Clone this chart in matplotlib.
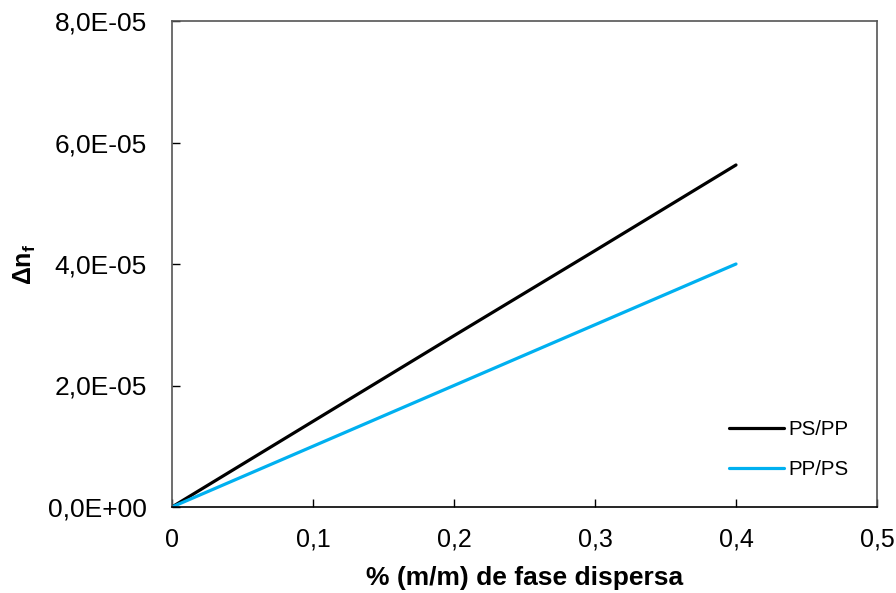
import matplotlib
matplotlib.use("Agg")
import matplotlib.pyplot as plt
from matplotlib.ticker import FuncFormatter

plt.rcParams['font.family'] = ['Liberation Sans', 'DejaVu Sans']
plt.rcParams['mathtext.fontset'] = 'custom'
plt.rcParams['mathtext.rm'] = 'Liberation Sans'
plt.rcParams['mathtext.bf'] = 'Liberation Sans:bold'

x_frac = [0.0, 0.1, 0.2, 0.3, 0.4]
ps_pp = [0.0, 1.41e-5, 2.82e-5, 4.22e-5, 5.63e-5]
pp_ps = [0.0, 1.0e-5, 2.0e-5, 3.0e-5, 4.0e-5]
x_ticks = [0, 0.1, 0.2, 0.3, 0.4, 0.5]
y_ticks = [0, 2e-5, 4e-5, 6e-5, 8e-5]

fig = plt.figure(figsize=(8.96, 5.93), dpi=100)
ax = fig.add_axes([172/896, 1-507/593, (877-172)/896, (507-21)/593])

ax.plot(x_frac, ps_pp, color='black', lw=2.3, label='PS/PP', solid_capstyle='round')
ax.plot(x_frac, pp_ps, color='#00B0F0', lw=2.3, label='PP/PS', solid_capstyle='round')

ax.set_xlim(0, 0.5)
ax.set_ylim(0, 8e-5)
ax.set_xticks(x_ticks)
ax.set_yticks(y_ticks)

def xfmt(v, p):
    return ('%g' % round(v, 3)).replace('.', ',')
def yfmt(v, p):
    if v == 0:
        return '0,0E+00'
    return ('%.1fE-05' % (v / 1e-5)).replace('.', ',')

ax.xaxis.set_major_formatter(FuncFormatter(xfmt))
ax.yaxis.set_major_formatter(FuncFormatter(yfmt))
ax.tick_params(direction='in', length=6, width=1, colors='black')
ax.tick_params(axis='x', pad=15, labelsize=18)
ax.tick_params(axis='y', pad=18, labelsize=19)

for s in ['left', 'right', 'top']:
    ax.spines[s].set_color('#555555')
ax.spines['bottom'].set_color('black')
for s in ax.spines.values():
    s.set_linewidth(1.2)

ax.set_xlabel('% (m/m) de fase dispersa', fontsize=19, fontweight='bold', labelpad=10)
ax.set_ylabel('Δn$_{\\mathbf{f}}$', fontsize=18, fontweight='bold', labelpad=7)

leg = ax.legend(loc='lower right', bbox_to_anchor=(0.986, 0.02), frameon=False,
                fontsize=14.7, handlelength=2.65, labelspacing=1.0, handletextpad=0.25)

fig.savefig('out.png', dpi=100)
